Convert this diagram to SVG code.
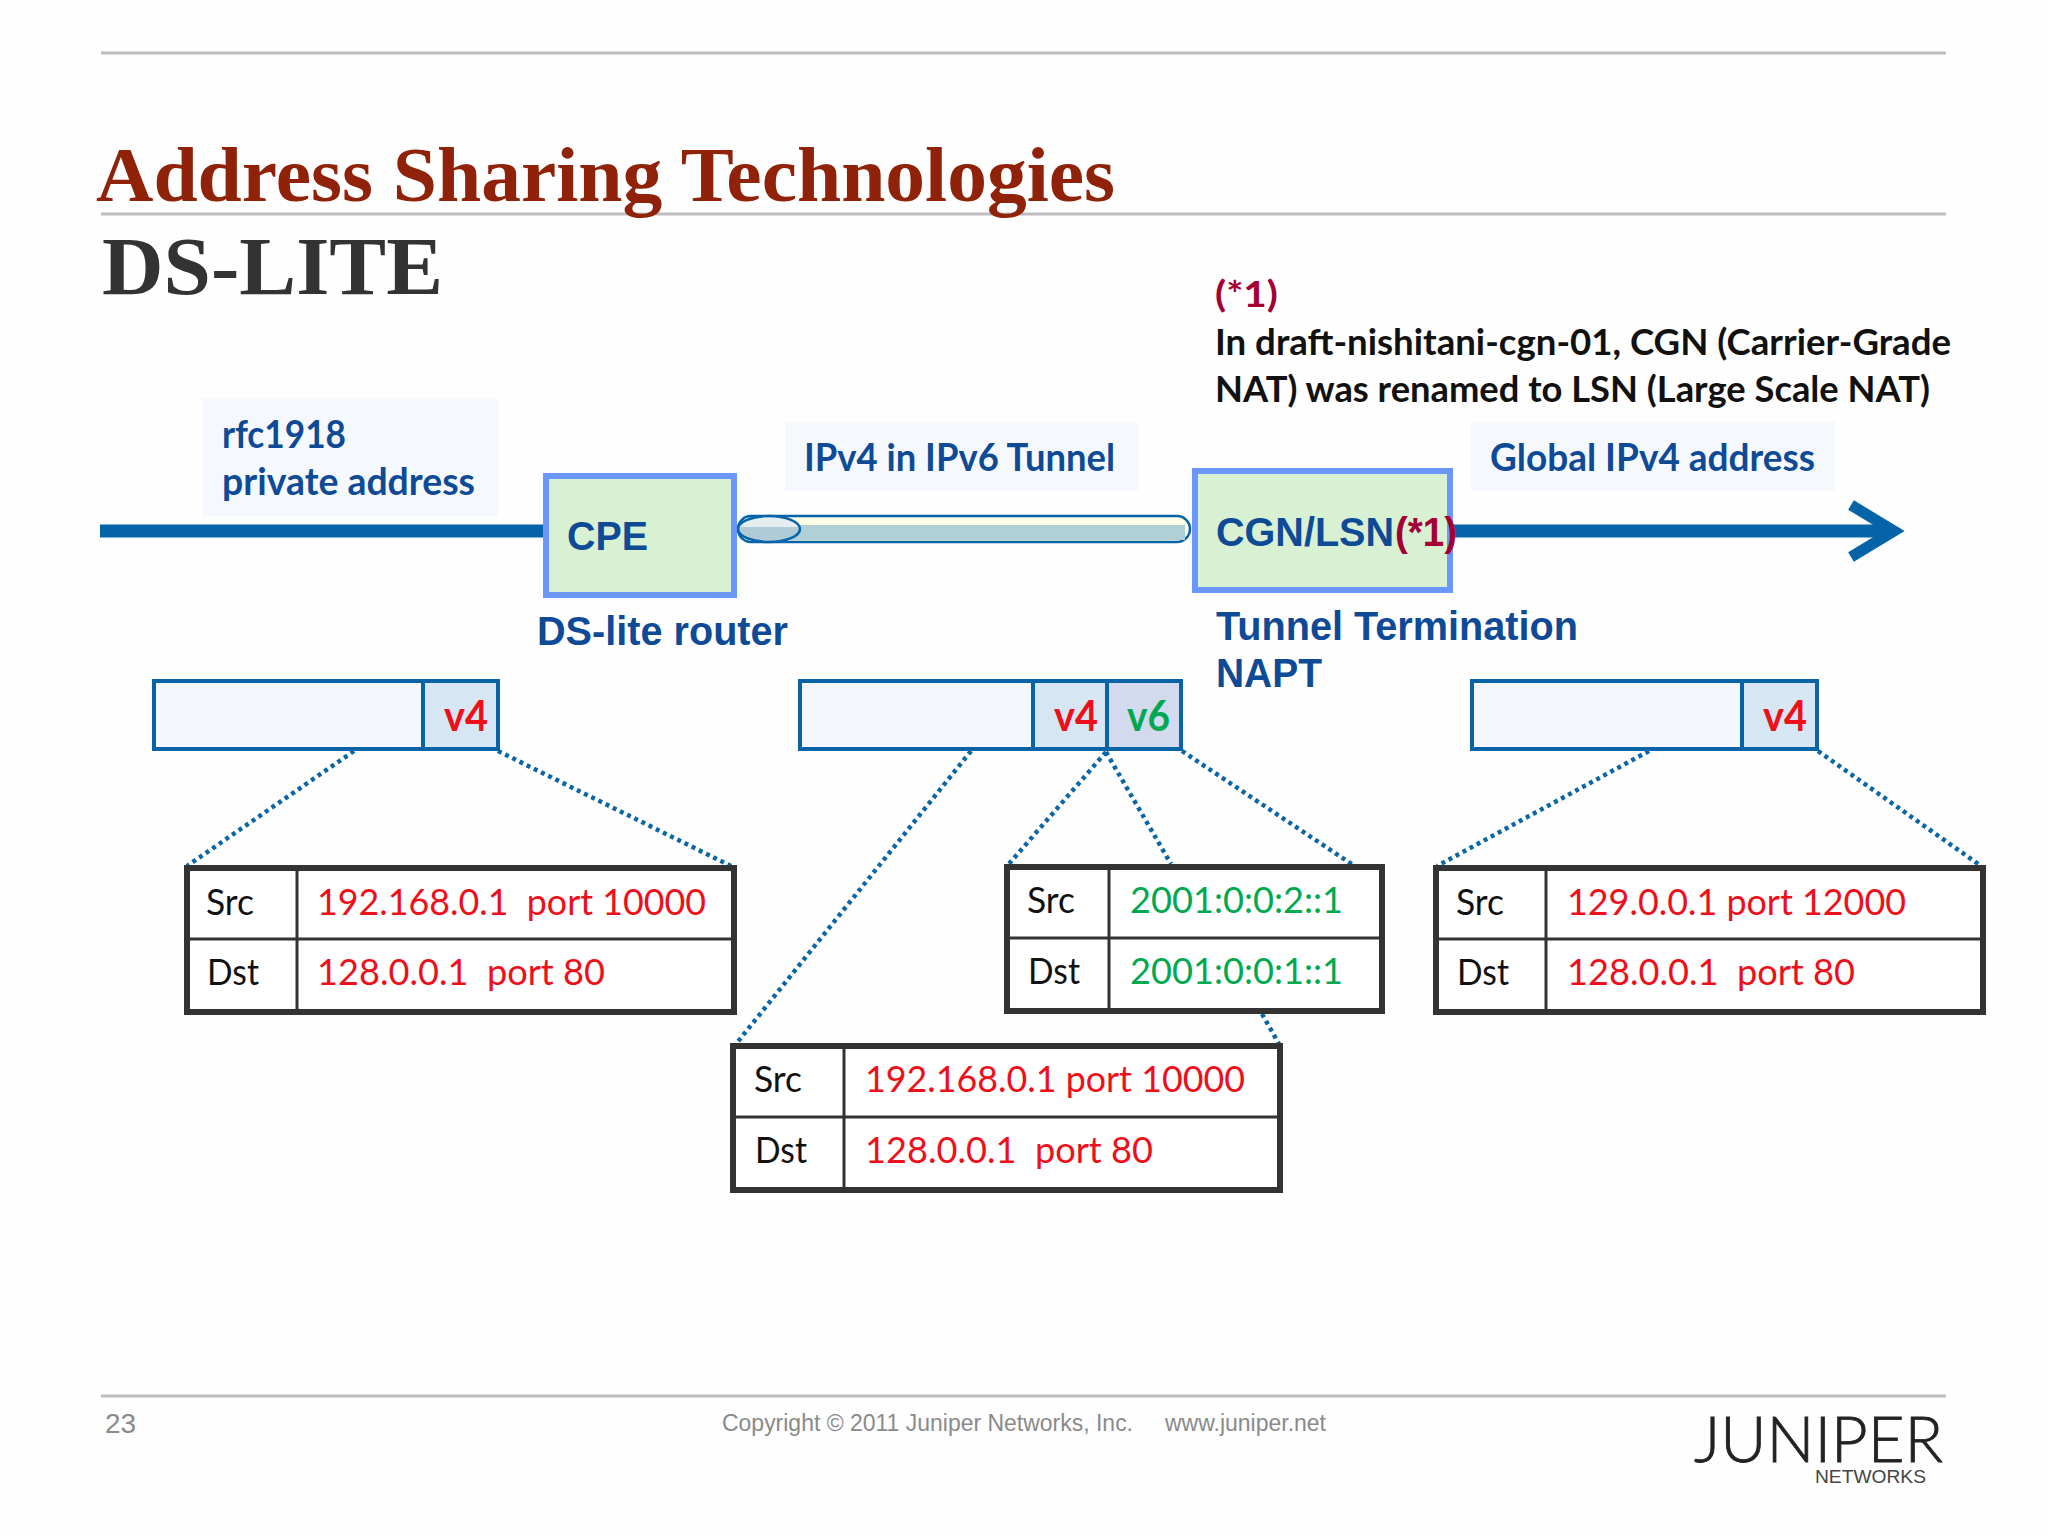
<svg xmlns="http://www.w3.org/2000/svg" width="2048" height="1536" viewBox="0 0 2048 1536">
<defs>
<linearGradient id="capEnd" x1="0" y1="0" x2="0" y2="1">
<stop offset="0" stop-color="#e4edf0"/><stop offset="0.42" stop-color="#e4edf0"/><stop offset="0.42" stop-color="#afcbd8"/><stop offset="1" stop-color="#afcbd8"/>
</linearGradient>
</defs>
<style>
.rule{stroke:#bdbdbd;stroke-width:3;fill:none}
.lbl{fill:#f5f9fd}
.cal{font-family:"Lato","Liberation Sans",sans-serif}
.ar{font-family:"Liberation Sans",Arial,sans-serif;font-weight:700;fill:#0f4a96}
.blue{font-weight:700;fill:#0f4a96;font-size:38px}
.note{font-weight:700;fill:#111;font-size:37px}
.node{fill:#d8f1d3;stroke:#6b97fb;stroke-width:6}
.bar{fill:#f4f8fd;stroke:#0864a6;stroke-width:4}
.c4{fill:#d7e6f3;stroke:#0864a6;stroke-width:4}
.c6{fill:#d3daee;stroke:#0864a6;stroke-width:4}
.vt{font-weight:700;font-size:42px}
.tb{fill:#fff;stroke:#333;stroke-width:6}
.dv{stroke:#333;stroke-width:3;fill:none}
.t{font-size:37px;fill:#111}
.r{font-size:37px;fill:#ee0f1a}
.g{font-size:37px;fill:#00a850}
.dot{stroke:#0b66a6;stroke-width:4.5;stroke-dasharray:4 4;fill:none}
.ft{font-family:"Liberation Sans",Arial,sans-serif;fill:#8a8a8a}
</style>
<rect width="2048" height="1536" fill="#fefefe"/>
<g id="header">
<line class="rule" x1="101" y1="53" x2="1946" y2="53"/>
<line class="rule" x1="101" y1="214" x2="1946" y2="214"/>
<text x="96" y="201" font-family="Liberation Serif,serif" font-weight="700" font-size="78" fill="#8f2208" textLength="1019" lengthAdjust="spacingAndGlyphs">Address Sharing Technologies</text>
<text x="102" y="294" font-family="Liberation Serif,serif" font-weight="700" font-size="82" fill="#333" textLength="341" lengthAdjust="spacingAndGlyphs">DS-LITE</text>
</g>
<g id="footnote" class="cal">
<text x="1215" y="307" font-weight="700" font-size="37" fill="#a50034" textLength="63" lengthAdjust="spacingAndGlyphs">(*1)</text>
<text class="note" x="1215" y="355" textLength="736" lengthAdjust="spacingAndGlyphs">In draft-nishitani-cgn-01, CGN (Carrier-Grade</text>
<text class="note" x="1215" y="402" textLength="715" lengthAdjust="spacingAndGlyphs">NAT) was renamed to LSN (Large Scale NAT)</text>
</g>
<g id="labels" class="cal">
<rect class="lbl" x="202" y="398" width="296" height="118"/>
<rect class="lbl" x="785" y="422" width="353" height="69"/>
<rect class="lbl" x="1471" y="422" width="364" height="69"/>
<text class="blue" x="222" y="448" textLength="124" lengthAdjust="spacingAndGlyphs">rfc1918</text>
<text class="blue" x="222" y="495" textLength="253" lengthAdjust="spacingAndGlyphs">private address</text>
<text class="blue" x="804" y="471" textLength="311" lengthAdjust="spacingAndGlyphs">IPv4 in IPv6 Tunnel</text>
<text class="blue" x="1490" y="471" textLength="325" lengthAdjust="spacingAndGlyphs">Global IPv4 address</text>
</g>
<g id="connectors">
<line x1="100" y1="531" x2="545" y2="531" stroke="#0563a8" stroke-width="13"/>
<line x1="1450" y1="531" x2="1890" y2="531" stroke="#0563a8" stroke-width="13"/>
<path d="M1851 505L1894 531L1851 557" fill="none" stroke="#0563a8" stroke-width="11"/>
<g>
<line class="dot" x1="354" y1="751" x2="187" y2="866"/>
<line class="dot" x1="498" y1="751" x2="731" y2="866"/>
<line class="dot" x1="971" y1="751" x2="736" y2="1044"/>
<line class="dot" x1="1106" y1="752" x2="1008" y2="865"/>
<line class="dot" x1="1106" y1="752" x2="1171" y2="864"/>
<line class="dot" x1="1182" y1="751" x2="1353" y2="865"/>
<line class="dot" x1="1262" y1="1014" x2="1279" y2="1044"/>
<line class="dot" x1="1649" y1="751" x2="1437" y2="866"/>
<line class="dot" x1="1818" y1="751" x2="1981" y2="866"/>
</g>
</g>
<g id="tunnel">
<rect x="738" y="516" width="452" height="26" rx="13" fill="#fdfce4" stroke="#0563a8" stroke-width="2.5"/>
<rect x="745" y="525" width="440" height="15" fill="#b0cfd6"/>
<ellipse cx="769" cy="529" rx="31" ry="13" fill="url(#capEnd)" stroke="#0563a8" stroke-width="2.5"/>
</g>
<g id="cpe">
<rect class="node" x="546" y="476" width="188" height="119"/>
<text class="ar" x="567" y="550" font-size="40" textLength="81" lengthAdjust="spacingAndGlyphs">CPE</text>
<text class="ar" x="537" y="645" font-size="40" textLength="251" lengthAdjust="spacingAndGlyphs">DS-lite router</text>
</g>
<g id="cgn">
<rect class="node" x="1195" y="471" width="255" height="119"/>
<text class="ar" x="1216" y="546" font-size="40" textLength="178" lengthAdjust="spacingAndGlyphs">CGN/LSN</text>
<text class="ar" x="1395" y="546" font-size="40" style="fill:#a50034" textLength="62" lengthAdjust="spacingAndGlyphs">(*1)</text>
<text class="ar" x="1216" y="640" font-size="40" textLength="362" lengthAdjust="spacingAndGlyphs">Tunnel Termination</text>
<text class="ar" x="1216" y="687" font-size="40" textLength="106" lengthAdjust="spacingAndGlyphs">NAPT</text>
</g>
<g id="packet-left" class="cal">
<rect class="bar" x="154" y="681" width="344" height="68"/>
<rect class="c4" x="423" y="681" width="75" height="68"/>
<text class="vt" x="444" y="731" fill="#ee0f1a" textLength="44" lengthAdjust="spacingAndGlyphs">v4</text>
</g>
<g id="packet-mid" class="cal">
<rect class="bar" x="800" y="681" width="381" height="68"/>
<rect class="c4" x="1033" y="681" width="74" height="68"/>
<rect class="c6" x="1107" y="681" width="74" height="68"/>
<text class="vt" x="1054" y="731" fill="#ee0f1a" textLength="44" lengthAdjust="spacingAndGlyphs">v4</text>
<text class="vt" x="1127" y="731" fill="#00a850" textLength="43" lengthAdjust="spacingAndGlyphs">v6</text>
</g>
<g id="packet-right" class="cal">
<rect class="bar" x="1472" y="681" width="345" height="68"/>
<rect class="c4" x="1742" y="681" width="75" height="68"/>
<text class="vt" x="1763" y="731" fill="#ee0f1a" textLength="44" lengthAdjust="spacingAndGlyphs">v4</text>
</g>
<g id="table-1" class="cal">
<rect class="tb" x="187" y="868" width="547" height="144"/>
<path class="dv" d="M297 868V1012M187 939H734"/>
<text class="t" x="206" y="915" textLength="48" lengthAdjust="spacingAndGlyphs">Src</text><text class="t" x="207" y="985" textLength="52" lengthAdjust="spacingAndGlyphs">Dst</text>
<text class="r" x="317" y="915" xml:space="preserve" textLength="389" lengthAdjust="spacingAndGlyphs">192.168.0.1  port 10000</text>
<text class="r" x="317" y="985" xml:space="preserve" textLength="288" lengthAdjust="spacingAndGlyphs">128.0.0.1  port 80</text>
</g>
<g id="table-2" class="cal">
<rect class="tb" x="1007" y="867" width="375" height="144"/>
<path class="dv" d="M1109 867V1011M1007 938H1382"/>
<text class="t" x="1027" y="913" textLength="48" lengthAdjust="spacingAndGlyphs">Src</text><text class="t" x="1028" y="984" textLength="52" lengthAdjust="spacingAndGlyphs">Dst</text>
<text class="g" x="1130" y="913" textLength="213" lengthAdjust="spacingAndGlyphs">2001:0:0:2::1</text>
<text class="g" x="1130" y="984" textLength="213" lengthAdjust="spacingAndGlyphs">2001:0:0:1::1</text>
</g>
<g id="table-3" class="cal">
<rect class="tb" x="733" y="1046" width="547" height="144"/>
<path class="dv" d="M844 1046V1190M733 1117H1280"/>
<text class="t" x="754" y="1092" textLength="48" lengthAdjust="spacingAndGlyphs">Src</text><text class="t" x="755" y="1163" textLength="52" lengthAdjust="spacingAndGlyphs">Dst</text>
<text class="r" x="865" y="1092" textLength="380" lengthAdjust="spacingAndGlyphs">192.168.0.1 port 10000</text>
<text class="r" x="865" y="1163" xml:space="preserve" textLength="288" lengthAdjust="spacingAndGlyphs">128.0.0.1  port 80</text>
</g>
<g id="table-4" class="cal">
<rect class="tb" x="1436" y="868" width="547" height="144"/>
<path class="dv" d="M1546 868V1012M1436 939H1983"/>
<text class="t" x="1456" y="915" textLength="48" lengthAdjust="spacingAndGlyphs">Src</text><text class="t" x="1457" y="985" textLength="52" lengthAdjust="spacingAndGlyphs">Dst</text>
<text class="r" x="1567" y="915" textLength="339" lengthAdjust="spacingAndGlyphs">129.0.0.1 port 12000</text>
<text class="r" x="1567" y="985" xml:space="preserve" textLength="288" lengthAdjust="spacingAndGlyphs">128.0.0.1  port 80</text>
</g>
<g id="footer">
<line class="rule" x1="101" y1="1396" x2="1946" y2="1396"/>
<text class="ft" x="105" y="1433" font-size="28">23</text>
<text class="ft" x="722" y="1431" font-size="23" textLength="411" lengthAdjust="spacingAndGlyphs">Copyright © 2011 Juniper Networks, Inc.</text>
<text class="ft" x="1165" y="1431" font-size="23" textLength="161" lengthAdjust="spacingAndGlyphs">www.juniper.net</text>
<text x="1694" y="1462" font-family="Lato,Liberation Sans,sans-serif" font-weight="300" font-size="64" fill="#222" stroke="#222" stroke-width="0.8" textLength="249" lengthAdjust="spacingAndGlyphs">JUNIPER</text>
<text x="1815" y="1483" font-family="Liberation Sans,sans-serif" font-size="18" fill="#444" textLength="111" lengthAdjust="spacingAndGlyphs">NETWORKS</text>
</g>
</svg>
